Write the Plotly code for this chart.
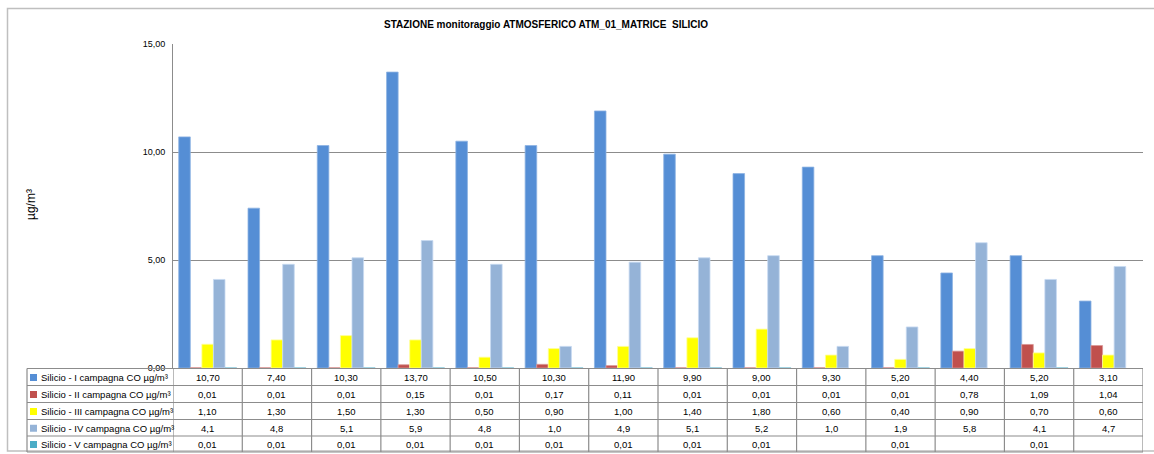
import plotly.graph_objects as go

W, H = 1154, 454
L, R, T, B = 173, 1143, 44, 368  # plot area in pixels

categories = [f"P{i}" for i in range(1, 15)]
series_names = [
    "Silicio - I campagna CO µg/m³",
    "Silicio - II campagna CO µg/m³",
    "Silicio - III campagna CO µg/m³",
    "Silicio - IV campagna CO µg/m³",
    "Silicio - V campagna CO µg/m³",
]
camp_I = [10.70, 7.40, 10.30, 13.70, 10.50, 10.30, 11.90, 9.90, 9.00, 9.30, 5.20, 4.40, 5.20, 3.10]
camp_II = [0.01, 0.01, 0.01, 0.15, 0.01, 0.17, 0.11, 0.01, 0.01, 0.01, 0.01, 0.78, 1.09, 1.04]
camp_III = [1.10, 1.30, 1.50, 1.30, 0.50, 0.90, 1.00, 1.40, 1.80, 0.60, 0.40, 0.90, 0.70, 0.60]
camp_IV = [4.1, 4.8, 5.1, 5.9, 4.8, 1.0, 4.9, 5.1, 5.2, 1.0, 1.9, 5.8, 4.1, 4.7]
camp_V = [0.01, 0.01, 0.01, 0.01, 0.01, 0.01, 0.01, 0.01, 0.01, None, 0.01, None, 0.01, None]
decimals = [2, 2, 2, 1, 2]
colors = ["#558ED5", "#C0504D", "#FFFF00", "#95B3D7", "#4BACC6"]
edge_colors = ["#8DB3E2", "#D99694", "#FFFF99", "#C6D9F1", "#93CDDD"]
y_ticks = [0, 5, 10, 15]

series = [camp_I, camp_II, camp_III, camp_IV, camp_V]

fig = go.Figure()
for name, vals, col, ec in zip(series_names, series, colors, edge_colors):
    fig.add_trace(go.Bar(
        x=categories, y=vals, name=name,
        marker=dict(color=col, line=dict(color=ec, width=0.8)),
        showlegend=False, hoverinfo="skip",
    ))


def py(p):  # pixel y -> paper y
    return (B - p) / (B - T)


def px(p):  # pixel x -> paper x
    return (p - L) / (R - L)


shapes = []
annotations = []
line_col = "#8C8C8C"

# outer chart border
shapes.append(dict(type="rect", xref="paper", yref="paper",
                   x0=px(7.5), x1=px(1160), y0=py(8.5), y1=py(451),
                   line=dict(color="#BFBFBF", width=1.5), layer="below"))

# table grid
row_lines = [368.5, 385.5, 402.5, 419.5, 436, 452]
for yl in row_lines:
    shapes.append(dict(type="line", xref="paper", yref="paper",
                       x0=px(27), x1=px(R), y0=py(yl), y1=py(yl),
                       line=dict(color=line_col, width=1.2)))
shapes.append(dict(type="line", xref="paper", yref="paper",
                   x0=px(27), x1=px(27), y0=py(row_lines[0]), y1=py(row_lines[-1]),
                   line=dict(color=line_col, width=1.2)))
for i in range(len(categories) + 1):
    shapes.append(dict(type="line", xref="x", yref="paper",
                       x0=i - 0.5, x1=i - 0.5, y0=py(row_lines[0]), y1=py(row_lines[-1]),
                       line=dict(color=line_col, width=1.2)))

font_tbl = "Liberation Sans, Arial, sans-serif"
for r, (name, vals, col, dec) in enumerate(zip(series_names, series, colors, decimals)):
    yc = (row_lines[r] + row_lines[r + 1]) / 2 + 0.5
    # legend key
    shapes.append(dict(type="rect", xref="paper", yref="paper",
                       x0=px(30), x1=px(37), y0=py(yc - 3.5), y1=py(yc + 3.5),
                       fillcolor=col, line=dict(width=0)))
    annotations.append(dict(xref="paper", yref="paper", x=px(38.5), y=py(yc),
                            text=name, showarrow=False, xanchor="left", yanchor="middle",
                            font=dict(family=font_tbl, size=9.5, color="#000000")))
    for i, v in enumerate(vals):
        if v is None:
            continue
        txt = f"{v:.{dec}f}".replace(".", ",")
        annotations.append(dict(xref="x", yref="paper", x=i, y=py(yc),
                                text=txt, showarrow=False, xanchor="center", yanchor="middle",
                                font=dict(family=font_tbl, size=9.5, color="#000000")))

# title
annotations.append(dict(xref="paper", yref="paper", x=px(545.5), y=py(25),
                        text="<b>STAZIONE monitoraggio ATMOSFERICO ATM_01_MATRICE \u00a0SILICIO</b>",
                        showarrow=False, xanchor="center", yanchor="middle",
                        font=dict(family="Liberation Sans, Arial, sans-serif", size=10, color="#000000")))
# y-axis title
annotations.append(dict(xref="paper", yref="paper", x=px(31), y=py(205),
                        text="µg/m³", textangle=-90, showarrow=False,
                        xanchor="center", yanchor="middle",
                        font=dict(family=font_tbl, size=12, color="#000000")))

fig.update_layout(
    width=W, height=H,
    margin=dict(l=L, r=W - R, t=T, b=H - B),
    paper_bgcolor="white", plot_bgcolor="white",
    barmode="group", bargap=0.165, bargroupgap=0,
    separators=",.",
    shapes=shapes, annotations=annotations,
    xaxis=dict(type="category", range=[-0.5, len(categories) - 0.5],
               showticklabels=False, showgrid=False, zeroline=False,
               showline=False, ticks=""),
    yaxis=dict(range=[0, 15], tickvals=y_ticks, tickformat=".2f",
               showgrid=True, gridcolor="#8C8C8C", gridwidth=1,
               showline=True, linecolor="#8C8C8C", linewidth=1,
               zeroline=False, ticks="", ticklen=0, ticklabelstandoff=5,
               tickfont=dict(family=font_tbl, size=9, color="#000000")),
)

fig.write_html("out.html", config={"displayModeBar": False},
               post_script="document.body.style.margin='0px';")
